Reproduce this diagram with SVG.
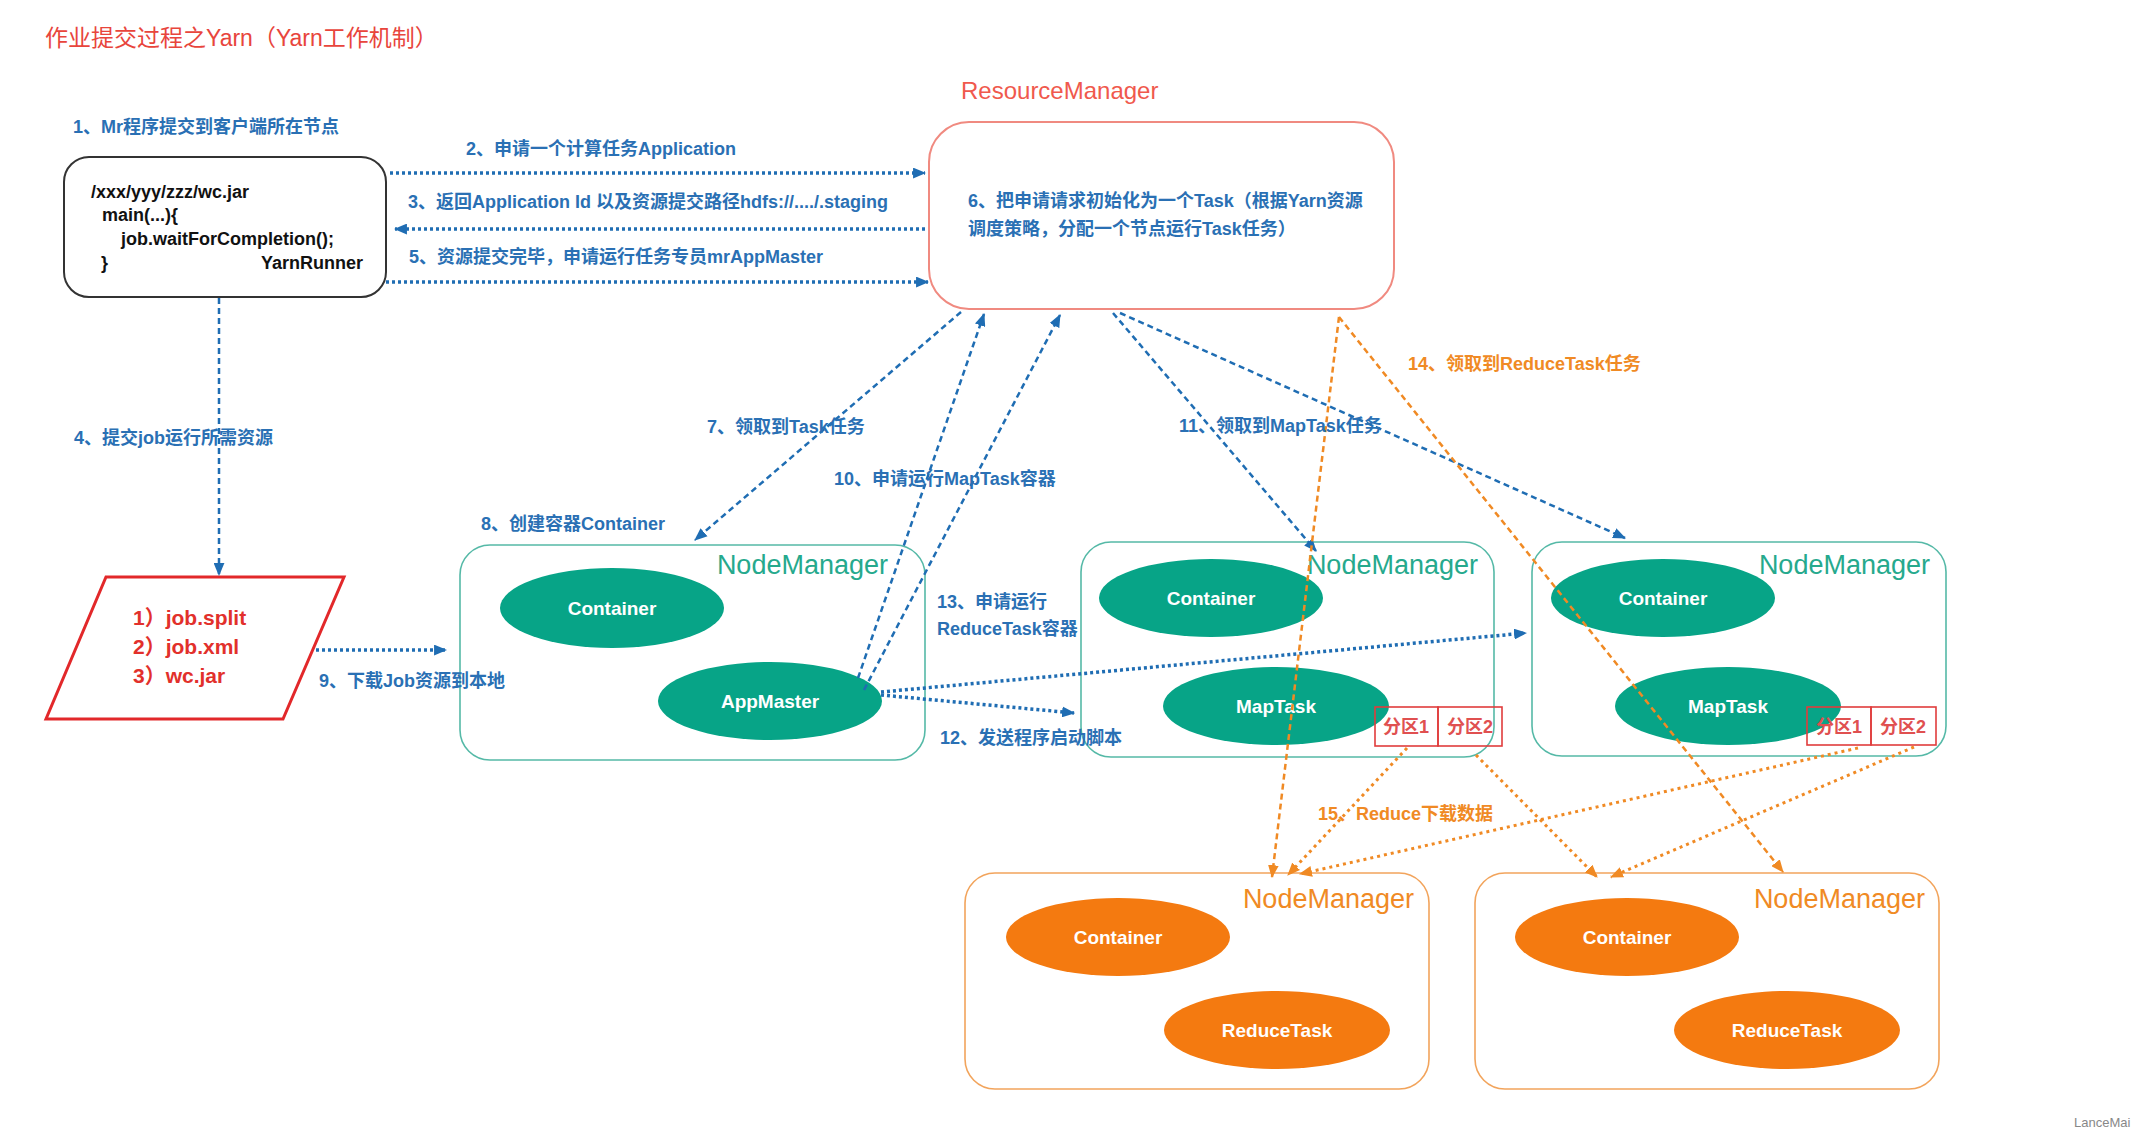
<svg xmlns="http://www.w3.org/2000/svg" width="2141" height="1137" viewBox="0 0 2141 1137">
<defs>
<style>
text{font-family:"Liberation Sans","Noto Sans CJK SC",sans-serif;}
.lbl{font-size:18px;font-weight:600;fill:#2a70b4;}
.olbl{font-size:18px;font-weight:600;fill:#f08a24;}
.code{font-size:18px;font-weight:600;fill:#111;}
.nm{font-size:27px;fill:#26a98d;text-anchor:end;}
.onm{font-size:27px;fill:#f08a24;text-anchor:end;}
.ell{fill:#07a487;}
.oell{fill:#f47a10;}
.et{font-size:19px;font-weight:bold;fill:#fff;text-anchor:middle;}
.tbox{fill:#fff;stroke:#55b9a7;stroke-width:1.6;}
.obox{fill:#fff;stroke:#f2a45c;stroke-width:1.6;}
.part{fill:none;stroke:#e03c3c;stroke-width:1.6;}
.pt{font-size:18px;font-weight:600;fill:#e05050;text-anchor:middle;}
.bdot{fill:none;stroke:#1f6db3;stroke-width:3.5;stroke-dasharray:3 3;marker-end:url(#ab);}
.bdash{fill:none;stroke:#1f6db3;stroke-width:2.5;stroke-dasharray:6 4;marker-end:url(#ab);}
.odash{fill:none;stroke:#f08a24;stroke-width:2.5;stroke-dasharray:6 4;marker-end:url(#ao);}
.odot{fill:none;stroke:#f08a24;stroke-width:3;stroke-dasharray:3 4;marker-end:url(#ao);}
</style>
<marker id="ab" viewBox="0 0 12 10" refX="11" refY="5" markerWidth="13" markerHeight="11" markerUnits="userSpaceOnUse" orient="auto"><path d="M0,0 L12,5 L0,10 z" fill="#1f6db3"/></marker>
<marker id="ao" viewBox="0 0 12 10" refX="11" refY="5" markerWidth="13" markerHeight="11" markerUnits="userSpaceOnUse" orient="auto"><path d="M0,0 L12,5 L0,10 z" fill="#f08a24"/></marker>
</defs>
<rect width="2141" height="1137" fill="#fff"/>
<text x="45" y="46" style="font-size:23px;fill:#e8453c;">作业提交过程之Yarn（Yarn工作机制）</text>

<g id="client">
<rect x="64" y="157" width="322" height="140" rx="25" fill="#fff" stroke="#333" stroke-width="2"/>
<text class="code" x="91" y="198">/xxx/yyy/zzz/wc.jar</text>
<text class="code" x="102" y="221">main(...){</text>
<text class="code" x="121" y="245">job.waitForCompletion();</text>
<text class="code" x="101" y="269">}</text>
<text class="code" x="261" y="269">YarnRunner</text>
</g>

<g id="resourcemanager">
<text x="961" y="99" style="font-size:24px;fill:#f0594d;">ResourceManager</text>
<rect x="929" y="122" width="465" height="187" rx="40" fill="#fff" stroke="#f08a80" stroke-width="2"/>
<text class="lbl" x="968" y="207">6、把申请请求初始化为一个Task（根据Yarn资源</text>
<text class="lbl" x="968" y="235">调度策略，分配一个节点运行Task任务）</text>
</g>

<g id="jobresources">
<polygon points="106,577 344,577 283,719 46,719" fill="#fff" stroke="#e2282a" stroke-width="3"/>
<text x="133" y="625" style="font-size:21px;font-weight:600;fill:#e2302b;">1）job.split</text>
<text x="133" y="654" style="font-size:21px;font-weight:600;fill:#e2302b;">2）job.xml</text>
<text x="133" y="683" style="font-size:21px;font-weight:600;fill:#e2302b;">3）wc.jar</text>
</g>

<g id="nm-appmaster">
<rect class="tbox" x="460" y="545" width="465" height="215" rx="30"/>
<text class="nm" x="888" y="574">NodeManager</text>
<ellipse class="ell" cx="612" cy="608" rx="112" ry="40"/>
<text class="et" x="612" y="615">Container</text>
<ellipse class="ell" cx="770" cy="701" rx="112" ry="39"/>
<text class="et" x="770" y="708">AppMaster</text>
</g>

<g id="nm-map1">
<rect class="tbox" x="1081" y="542" width="413" height="215" rx="30"/>
<text class="nm" x="1478" y="574">NodeManager</text>
<ellipse class="ell" cx="1211" cy="598" rx="112" ry="39"/>
<text class="et" x="1211" y="605">Container</text>
<ellipse class="ell" cx="1276" cy="706" rx="113" ry="39"/>
<text class="et" x="1276" y="713">MapTask</text>
<rect class="part" x="1375" y="707" width="63" height="39"/>
<rect class="part" x="1438" y="707" width="64" height="39"/>
<text class="pt" x="1406" y="733">分区1</text>
<text class="pt" x="1470" y="733">分区2</text>
</g>

<g id="nm-map2">
<rect class="tbox" x="1532" y="542" width="414" height="214" rx="30"/>
<text class="nm" x="1930" y="574">NodeManager</text>
<ellipse class="ell" cx="1663" cy="598" rx="112" ry="39"/>
<text class="et" x="1663" y="605">Container</text>
<ellipse class="ell" cx="1728" cy="706" rx="113" ry="39"/>
<text class="et" x="1728" y="713">MapTask</text>
<rect class="part" x="1807" y="707" width="64" height="38"/>
<rect class="part" x="1871" y="707" width="65" height="38"/>
<text class="pt" x="1839" y="733">分区1</text>
<text class="pt" x="1903" y="733">分区2</text>
</g>

<g id="nm-reduce1">
<rect class="obox" x="965" y="873" width="464" height="216" rx="30"/>
<text class="onm" x="1414" y="908">NodeManager</text>
<ellipse class="oell" cx="1118" cy="937" rx="112" ry="39"/>
<text class="et" x="1118" y="944">Container</text>
<ellipse class="oell" cx="1277" cy="1030" rx="113" ry="39"/>
<text class="et" x="1277" y="1037">ReduceTask</text>
</g>

<g id="nm-reduce2">
<rect class="obox" x="1475" y="873" width="464" height="216" rx="30"/>
<text class="onm" x="1925" y="908">NodeManager</text>
<ellipse class="oell" cx="1627" cy="937" rx="112" ry="39"/>
<text class="et" x="1627" y="944">Container</text>
<ellipse class="oell" cx="1787" cy="1030" rx="113" ry="39"/>
<text class="et" x="1787" y="1037">ReduceTask</text>
</g>

<g id="connectors">
<line class="bdot" x1="390" y1="173" x2="925" y2="173"/>
<line class="bdot" x1="925" y1="229" x2="395" y2="229"/>
<line class="bdot" x1="386" y1="282" x2="928" y2="282"/>
<line class="bdash" x1="219" y1="298" x2="219" y2="575"/>
<line class="bdot" x1="316" y1="650" x2="446" y2="650"/>
<line class="bdash" x1="961" y1="312" x2="695" y2="540"/>
<line class="bdash" x1="858" y1="678" x2="984" y2="314"/>
<line class="bdash" x1="864" y1="690" x2="1060" y2="315"/>
<line class="bdot" x1="881" y1="695" x2="1074" y2="713"/>
<line class="bdot" x1="881" y1="692" x2="1526" y2="633"/>
<line class="bdash" x1="1113" y1="313" x2="1316" y2="551"/>
<line class="bdash" x1="1120" y1="313" x2="1625" y2="538"/>
<line class="odash" x1="1339" y1="317" x2="1272" y2="877"/>
<line class="odash" x1="1339" y1="317" x2="1783" y2="872"/>
<line class="odot" x1="1407" y1="748" x2="1288" y2="875"/>
<line class="odot" x1="1858" y1="748" x2="1300" y2="874"/>
<line class="odot" x1="1476" y1="755" x2="1597" y2="877"/>
<line class="odot" x1="1914" y1="747" x2="1611" y2="877"/>
</g>

<g id="labels">
<text class="lbl" x="73" y="133">1、Mr程序提交到客户端所在节点</text>
<text class="lbl" x="466" y="155">2、申请一个计算任务Application</text>
<text class="lbl" x="408" y="208">3、返回Application Id 以及资源提交路径hdfs://..../.staging</text>
<text class="lbl" x="409" y="263">5、资源提交完毕，申请运行任务专员mrAppMaster</text>
<text class="lbl" x="74" y="444">4、提交job运行所需资源</text>
<text class="lbl" x="707" y="433">7、领取到Task任务</text>
<text class="lbl" x="481" y="530">8、创建容器Container</text>
<text class="lbl" x="319" y="687">9、下载Job资源到本地</text>
<text class="lbl" x="834" y="485">10、申请运行MapTask容器</text>
<text class="lbl" x="1179" y="432">11、领取到MapTask任务</text>
<text class="lbl" x="940" y="744">12、发送程序启动脚本</text>
<text class="lbl" x="937" y="608">13、申请运行</text>
<text class="lbl" x="937" y="635">ReduceTask容器</text>
<text class="olbl" x="1408" y="370">14、领取到ReduceTask任务</text>
<text class="olbl" x="1318" y="820">15、Reduce下载数据</text>
<text x="2074" y="1127" style="font-size:13px;fill:#888;">LanceMai</text>
</g>
</svg>
